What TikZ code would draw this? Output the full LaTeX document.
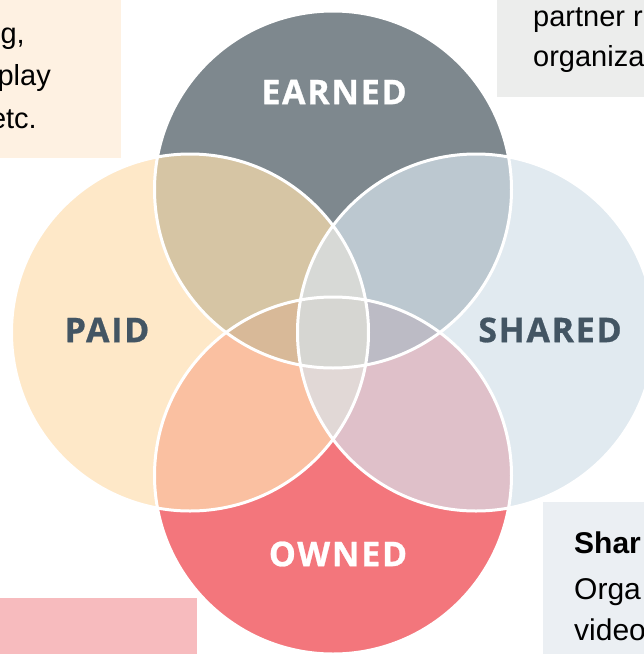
\documentclass[tikz,border=0pt]{standalone}
\usepackage{fontspec}
\setmainfont{Liberation Sans}
\newfontfamily\labelfont{Open Sans}
\begin{document}
\begin{tikzpicture}[x=1pt,y=-1pt,
  ring/.style={draw=white,line width=3pt},
  setlabel/.style={font=\labelfont\bfseries\fontsize{34}{34}\selectfont\addfontfeature{LetterSpace=5,FakeBold=0.8},inner sep=0pt},
  bodytext/.style={font=\fontsize{29}{34}\selectfont,text=black,inner sep=0pt},
  panelhead/.style={font=\bfseries\fontsize{30}{34}\selectfont,text=black,inner sep=0pt},
  paneltext/.style={font=\fontsize{30}{34}\selectfont,text=black,inner sep=0pt}]
% palette
\definecolor{earned}{HTML}{7E888E}
\definecolor{paid}{HTML}{FEE8C8}
\definecolor{shared}{HTML}{E1EAF0}
\definecolor{owned}{HTML}{F3767C}
\definecolor{ep}{HTML}{D6C5A4}
\definecolor{es}{HTML}{BCC8D0}
\definecolor{po}{HTML}{FAC0A1}
\definecolor{so}{HTML}{DFC0C9}
\definecolor{eps}{HTML}{D7D9D6}
\definecolor{epo}{HTML}{D8B998}
\definecolor{eso}{HTML}{BCBBC5}
\definecolor{pso}{HTML}{E1D8D6}
\definecolor{all}{HTML}{D6D6D2}
\definecolor{labelink}{HTML}{435563}
\definecolor{boxpeach}{HTML}{FEF1E2}
\definecolor{boxgray}{HTML}{ECEDEC}
\definecolor{boxblue}{HTML}{EBEFF3}
\definecolor{boxpink}{HTML}{F7BBBE}

\useasboundingbox (0,0) rectangle (644,654);
\fill[white] (0,0) rectangle (644,654);

% the four sets
\def\cE{(333,189.5) circle[radius=178.5pt]}
\def\cP{(190,332.5) circle[radius=178.5pt]}
\def\cS{(476,332.5) circle[radius=178.5pt]}
\def\cO{(333,475.5) circle[radius=178.5pt]}

% side text panels
\fill[boxpeach] (0,0) rectangle (121,158);
\fill[boxgray] (497,0) rectangle (644,97);
\fill[boxblue] (543,502) rectangle (644,654);
\fill[boxpink] (0,598) rectangle (197,654);

\node[bodytext,anchor=base east] (tl1) at (25,43) {g,};
\node[bodytext,anchor=base east] (tl2) at (51,85) {play};
\node[bodytext,anchor=base east] (tl3) at (37,128) {etc.};
\node[bodytext,anchor=base west] (tr1) at (533,26) {partner r};
\node[bodytext,anchor=base west] (tr2) at (533,66) {organiza};
\node[panelhead,anchor=base west] (br1) at (574,553) {Shar};
\node[paneltext,anchor=base west] (br2) at (574,599) {Orga};
\node[paneltext,anchor=base west] (br3) at (574,640) {video};

% single sets
\fill[earned] \cE;
\fill[paid] \cP;
\fill[shared] \cS;
\fill[owned] \cO;
% pairwise overlaps
\begin{scope}\clip \cE; \fill[ep] \cP; \fill[es] \cS; \end{scope}
\begin{scope}\clip \cO; \fill[po] \cP; \fill[so] \cS; \end{scope}
% triple overlaps
\begin{scope}\clip \cE; \clip \cP; \fill[eps] \cS; \fill[epo] \cO; \end{scope}
\begin{scope}\clip \cE; \clip \cS; \fill[eso] \cO; \end{scope}
\begin{scope}\clip \cP; \clip \cS; \fill[pso] \cO; \end{scope}
% all four
\begin{scope}\clip \cE; \clip \cP; \clip \cS; \fill[all] \cO; \end{scope}
% white rims
\draw[ring] \cE; \draw[ring] \cP; \draw[ring] \cS; \draw[ring] \cO;

\node[setlabel,text=white] (earned) at (334,92) {EARNED};
\node[setlabel,text=labelink] (paid) at (107,330) {PAID};
\node[setlabel,text=labelink] (shared) at (550,330) {SHARED};
\node[setlabel,text=white] (owned) at (338,554) {OWNED};
\end{tikzpicture}
\end{document}
